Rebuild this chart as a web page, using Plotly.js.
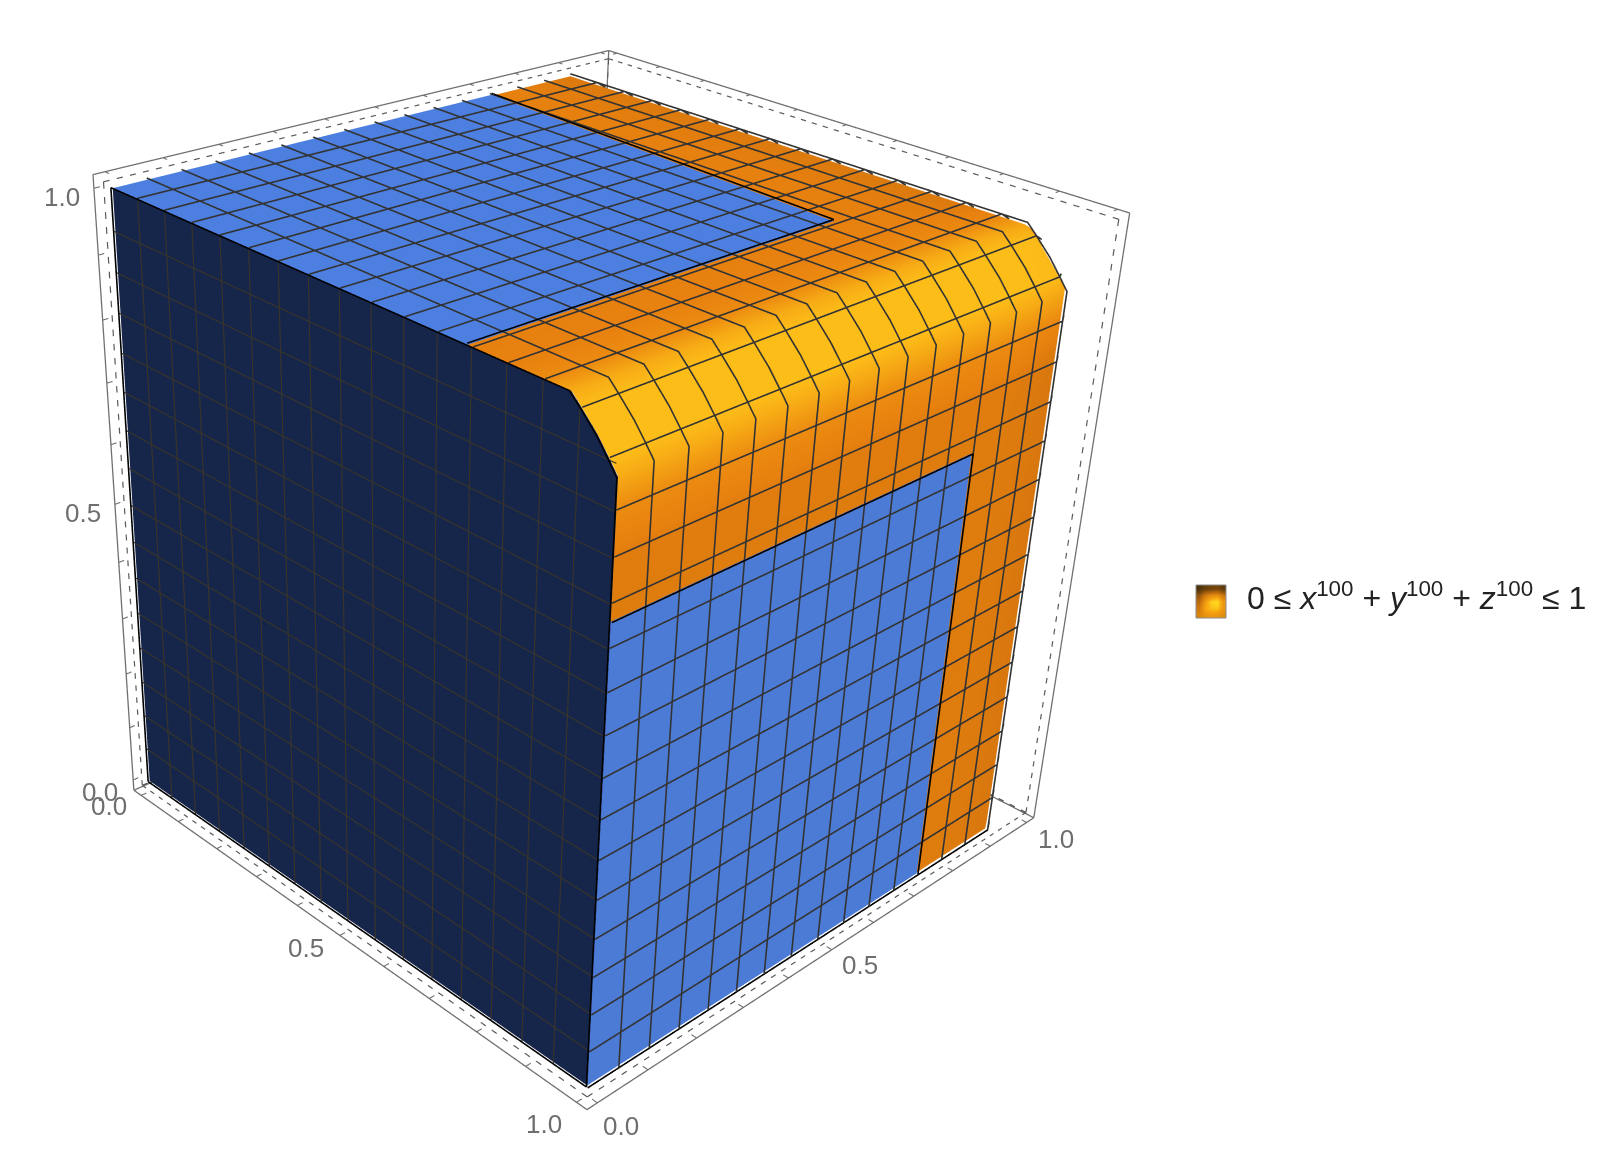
<!DOCTYPE html>
<html><head><meta charset="utf-8"><script src="https://cdn.plot.ly/plotly-3.0.1.min.js"></script>
<style>html,body{margin:0;padding:0;background:#fff;overflow:hidden}</style></head>
<body><div id="gd" style="width:1624px;height:1174px"></div>
<script>
// ---------- data ----------
const meshTicks=[0.0625,0.125,0.1875,0.25,0.3125,0.375,0.4375,0.5,0.5625,0.625,0.6875,0.75,0.8125,0.875,0.9375];
const pathA=[0,.0625,.125,.1875,.25,.3125,.375,.4375,.5,.5625,.625,.6875,.75,.8125,.875,.92,.9375,.965,.985,1,1,1,1,1,1,1,1,1,1,1,1,1,1,1,1];
const pathZ=[1,1,1,1,1,1,1,1,1,1,1,1,1,1,1,1,.985,.96,.9375,.92,.875,.8125,.75,.6875,.625,.5625,.5,.4375,.375,.3125,.25,.1875,.125,.0625,0];
const normA=[0,0,0,0,0,0,0,0,0,0,0,0,0,0,0,0,.3,.707,.95,1,1,1,1,1,1,1,1,1,1,1,1,1,1,1,1];
const normZ=[1,1,1,1,1,1,1,1,1,1,1,1,1,1,1,1,.95,.707,.3,0,0,0,0,0,0,0,0,0,0,0,0,0,0,0,0];
const pathMesh=[0,1,1,1,1,1,1,1,1,1,1,1,1,1,1,0,1,0,1,0,1,1,1,1,1,1,1,1,1,1,1,1,1,1,0];
const pathShade=[.45,.45,.45,.45,.45,.45,.45,.45,.45,.45,.45,.45,.45,.46,.55,.85,1,1,1,.85,.55,.43,.42,.42,.42,.42,.42,.42,.42,.42,.42,.42,.42,.42,.42];
const nodeB=[0,.0606,.1213,.1819,.2425,.3031,.3638,.4244,.485,.5456,.6063,.6669,.7275,.7881,.8488,.9094,.93,.955,.97];
const shrinkB=[0,0,0,0,0,0,0,0,0,0,0,0,0,0,0,0,.012,.035,.08];
const meshB=[0,1,1,1,1,1,1,1,1,1,1,1,1,1,1,1,0,0,0];
const dropB=[0,0,0,0,0,0,0,0,0,0,0,0,0,0,.02,.06,.15,.3,.42];
const blueTopA=.74, blueTopBnear=.73, blueTopBfar=.70, blueSideB=.7275, blueSideZ=.725;
const axisRange=[-0.021,1.021], boxRange=[-0.02,1.02], dotRange=[-0.01,1.01];
const tickVals=[0,.1,.2,.3,.4,.5,.6,.7,.8,.9,1];
const labelVals=[0,.5,1], labelText=['0.0','0.5','1.0'];
const xLabelShift=[[-33,-11],[-34,-13],[-33,-22]];
const yLabelShift=[[23,-23],[28,-15],[29,-17]];
const zLabelShift=[[-34,-12],[-32,-9],[-32,-9]];
const swatchZ=[[.62,.72,.76,.74,.66],[.55,.82,.9,.92,.74],[.45,.76,.95,1,.74],[.3,.55,.66,.7,.5],[.05,.14,.18,.2,.12]];
// ---------- view ----------
const eye={x:2.0740,y:-2.1928,z:1.5380}, up={x:-0.0968,y:0.0402,z:1}, center={x:0,y:0,z:-0.1111};
const viewCx=596.43, viewSize=1174, fovy=0.49794, aspect=1.042/1.04;
// ---------- traces ----------
const k=1.006,cen=[.5,.45,.5];
const S=(i,j)=>[pathA[i]-shrinkB[j]*normA[i],nodeB[j],pathZ[i]-shrinkB[j]*normZ[i]];
const off=p=>p.map((v,a)=>cen[a]+(v-cen[a])*k);
const X=[],Y=[],Z=[],C=[];
nodeB.forEach((b,j)=>{const xr=[],yr=[],zr=[],cr=[];pathA.forEach((a,i)=>{const s=S(i,j);xr.push(s[0]);yr.push(s[1]);zr.push(s[2]);cr.push(Math.max(0,pathShade[i]-dropB[j]*(pathShade[i]>.9?.4:1)))});X.push(xr);Y.push(yr);Z.push(zr);C.push(cr)});
const flat={ambient:1,diffuse:0,specular:0,roughness:1,fresnel:0};
const base={type:'surface',showscale:false,hoverinfo:'skip',lighting:flat,cmin:0,cmax:1};
const mono=c=>[[0,c],[1,c]];
const traces=[];
traces.push({...base,x:X,y:Y,z:Z,surfacecolor:C,colorscale:[[0,'#a4590f'],[.42,'#df7c0e'],[.46,'#e8810f'],[1,'#fdbd18']]});
// blue patches
traces.push({...base,x:[[0,blueTopA],[0,blueTopA]],y:[[-.002,-.002],[blueTopBnear,blueTopBfar]],z:[[1.0015,1.0015],[1.0015,1.0015]],surfacecolor:[[.5,.5],[.5,.5]],colorscale:mono('#4c7fdf')});
traces.push({...base,x:[[1.0015,1.0015],[1.0015,1.0015]],y:[[-.002,-.002],[blueSideB,blueSideB]],z:[[0,blueSideZ],[0,blueSideZ]],surfacecolor:[[.5,.5],[.5,.5]],colorscale:mono('#4c7bd6')});
// dark face
const darkIdx=pathA.map((a,i)=>i).filter(i=>i<=19);
const dkx=darkIdx.map(i=>pathA[i]+.002*normA[i]),dkz=darkIdx.map(i=>pathZ[i]+.002*normZ[i]);
traces.push({...base,x:[dkx,dkx],y:[darkIdx.map(()=>-.002),darkIdx.map(()=>-.002)],z:[darkIdx.map(()=>0),dkz],surfacecolor:[darkIdx.map(()=>.5),darkIdx.map(()=>.5)],colorscale:mono('#16264b')});
function lines(segs,color,width){const x=[],y=[],z=[];segs.forEach(s=>{s.forEach(p=>{x.push(p[0]);y.push(p[1]);z.push(p[2])});x.push(null);y.push(null);z.push(null)});
 return {type:'scatter3d',mode:'lines',x,y,z,hoverinfo:'skip',showlegend:false,line:{color,width}}}
// mesh on orange/blue
const segs=[];
nodeB.forEach((b,j)=>{if(meshB[j])segs.push(pathA.map((a,i)=>off(S(i,j))))});
pathA.forEach((a,i)=>{if(pathMesh[i])segs.push(nodeB.slice(0,-2).map((b,j)=>off(S(i,j))))});
traces.push(lines(segs,'#333333',3.2));
// mesh on dark face
const dsegs=[];
meshTicks.forEach(a=>{let i=0;while(i<19&&pathA[i+1]<a)i++;const zt=pathZ[Math.min(i+1,19)];dsegs.push([[a,-.004,0],[a,-.004,zt]]);});
meshTicks.forEach(z=>{let i=19;while(i>0&&pathZ[i-1]<z)i--;dsegs.push([[0,-.004,z],[pathA[i],-.004,z]]);});
traces.push(lines(dsegs,'#3a3428',2.2));
// black outlines
const last=pathA.length-1;
const blk=[[[blueTopA,-.002,1.004],[blueTopA,blueTopBfar,1.004]],[[0,blueTopBnear,1.004],[blueTopA,blueTopBfar,1.004]],[[1.004,-.002,blueSideZ],[1.004,blueSideB,blueSideZ]],[[1.004,blueSideB,0],[1.004,blueSideB,blueSideZ]],
 nodeB.slice(0,-2).map((b,j)=>off(S(last,j))),darkIdx.map(i=>[pathA[i]+.003*normA[i],-.005,pathZ[i]+.003*normZ[i]]).concat([[1.003,-.005,0]]),[[0,-.005,0],[1.003,-.005,0]],[[0,-.005,0],[0,-.005,1.003]]];
traces.push(lines(blk,'#000000',3.2));
// boxes: solid outer frame, dash-dot inner frame; the three edges in front of the solid are not drawn
function boxEdges(r){const a=r[0],b=r[1];return [[[a,a,a],[a,a,b]],[[a,a,a],[b,a,a]],[[b,a,a],[b,b,a]],[[b,b,a],[b,b,b]],[[b,b,b],[a,b,b]],[[a,b,b],[a,a,b]],[[a,b,a],[a,b,b]],[[a,b,a],[a,a,a]],[[a,b,a],[b,b,a]]]}
function chop(e){const out=[];const p=e[0],q=e[1];const st=.022,on=.01;for(let t=0;t<1;t+=st){const t2=Math.min(1,t+on);out.push([p.map((v,i)=>v+(q[i]-v)*t),p.map((v,i)=>v+(q[i]-v)*t2)])}return out}
traces.push(lines(boxEdges(boxRange),'#707070',2.6));
traces.push(lines(boxEdges(dotRange).flatMap(chop),'#5a5a5a',2.4));
const a=boxRange[0],b=boxRange[1],d=dotRange[0],e=dotRange[1];
const tk=[];tickVals.forEach(t=>{tk.push([[t,a,a],[t,d,a]]);tk.push([[b,t,a],[e,t,a]]);tk.push([[a,a,t],[a,d,t]]);tk.push([[t,b,b],[t,e,b]]);tk.push([[a,t,b],[d,t,b]])});
traces.push(lines(tk,'#707070',2.2));
// swatch
traces.push({type:'heatmap',z:swatchZ,zsmooth:'best',showscale:false,hoverinfo:'skip',zmin:0,zmax:1,xaxis:'x',yaxis:'y',colorscale:[[0,'#3f2a0a'],[.5,'#c9720e'],[.8,'#f5a011'],[1,'#ffdd1f']]});
// annotations
const font={family:'Liberation Sans, Arial, sans-serif',size:26,color:'#6e6e6e'};
const anns=[];
function lab(pt,txt,s){anns.push({x:pt[0],y:pt[1],z:pt[2],text:txt,showarrow:false,xshift:s[0],yshift:s[1],font})}
labelVals.forEach((v,i)=>{lab([v,a,a],labelText[i],xLabelShift[i]);lab([b,v,a],labelText[i],yLabelShift[i]);lab([a,a,v],labelText[i],zLabelShift[i])});
const layout={width:1624,height:1174,margin:{l:0,r:0,t:0,b:0},paper_bgcolor:'#fff',plot_bgcolor:'#fff',showlegend:false,
 scene:{domain:{x:[(viewCx-viewSize/2)/1624,(viewCx+viewSize/2)/1624],y:[0,1]},aspectmode:'manual',aspectratio:{x:aspect,y:aspect,z:aspect},
  camera:{eye,center,up},
  xaxis:{range:axisRange,visible:false},yaxis:{range:axisRange,visible:false},zaxis:{range:axisRange,visible:false},annotations:anns},
 xaxis:{domain:[1196/1624,1226/1624],visible:false,fixedrange:true},yaxis:{domain:[1-618/1174,1-585/1174],visible:false,fixedrange:true},
 shapes:[{type:'rect',xref:'paper',yref:'paper',x0:1196/1624,x1:1226/1624,y0:1-618/1174,y1:1-585/1174,line:{color:'#8a8a8a',width:1}}],
 annotations:[{xref:'paper',yref:'paper',x:1245/1624,y:1-596/1174,xanchor:'left',yanchor:'middle',showarrow:false,align:'left',
   text:'0 ≤ <i>x</i><sup>100</sup> + <i>y</i><sup>100</sup> + <i>z</i><sup>100</sup> ≤ 1',font:{family:'Liberation Sans, Arial, sans-serif',size:32,color:'#222'}}]};
Plotly.newPlot('gd',traces,layout,{displayModeBar:false}).then(gd=>{
 // narrower lens than the default, to match the reference's weak perspective
 const g=gd._fullLayout.scene._scene.glplot;g.fovy=fovy;g.redraw();
 setTimeout(()=>{g.fovy=fovy;g.redraw()},200);
});
</script></body></html>
